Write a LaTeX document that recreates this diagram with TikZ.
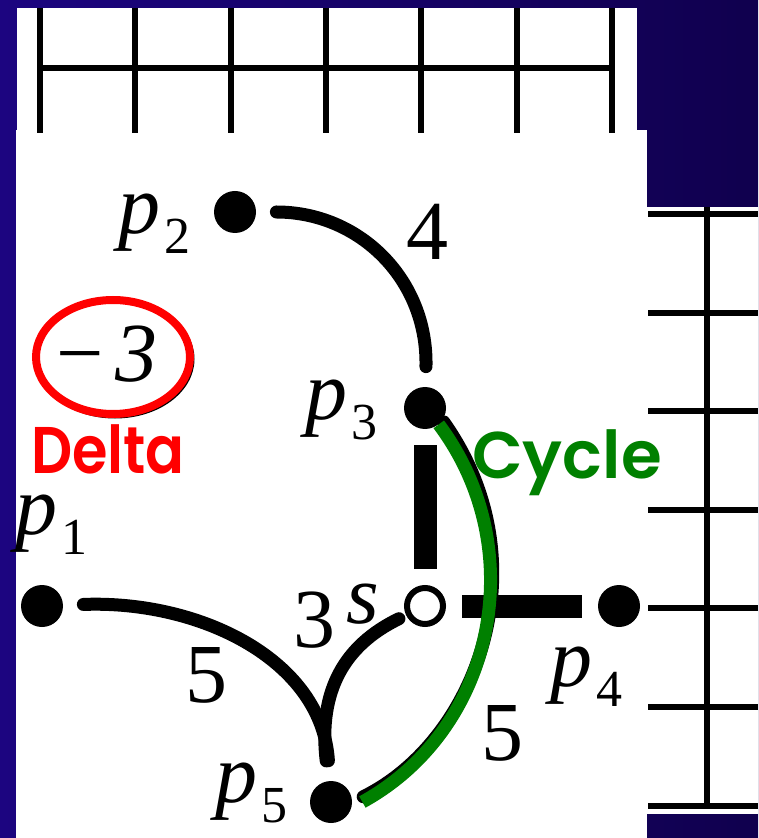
\documentclass[tikz,border=0pt]{standalone}
\usepackage{fontspec}
\setmainfont{Liberation Serif}
\newfontfamily\gothic{Poppins}[BoldFont={* SemiBold}]
\usetikzlibrary{positioning}
\definecolor{SlideNavy}{HTML}{1C0580}
\definecolor{SlideDark}{HTML}{10004E}
\definecolor{CycleGreen}{HTML}{008000}
\definecolor{DeltaRed}{HTML}{FF0000}
\newcommand{\vname}[1]{\textit{p}\kern2pt\raisebox{-10pt}{\fontsize{26}{26}\selectfont #1}}
\tikzset{
  dot/.style={circle, fill=black, minimum size=21pt, inner sep=0pt},
  hole/.style={circle, draw=black, line width=3pt, fill=white, minimum size=18pt, inner sep=0pt},
  vlabel/.style={anchor=base west, inner sep=0pt, text height=19pt, font=\fontsize{42}{42}\selectfont},
  weight/.style={anchor=base west, inner sep=0pt, text height=28pt, font=\fontsize{42}{42}\selectfont},
  tag/.style={anchor=base, inner sep=0pt, text depth=0pt, font=\gothic\bfseries\fontsize{33}{33}\selectfont},
  edge/.style={line width=6.5pt, line cap=round, shorten <=10pt, shorten >=10pt},
  bar/.style={line width=11.5pt, shorten <=8pt, shorten >=8pt},
  cycleedge/.style={line width=6.5pt, draw=CycleGreen},
  gridline/.style={line width=3pt}
}

\begin{document}
\begin{tikzpicture}[x=0.5pt, y=0.5pt]
\useasboundingbox (0,0) rectangle (758,-838);
% slide background and the cut-out panels
\shade[left color=SlideNavy, right color=SlideDark] (0,0) rectangle (758,-838);
\fill[white] (17,-8) rectangle (637,-130);
\fill[white] (16,-130) rectangle (647,-838);
\fill[white] (646,-207) rectangle (758,-814);
% grids
\foreach \i in {0,...,6}
  \draw[gridline] ({40+95.3*\i},-8) -- ({40+95.3*\i},-133);
\draw[gridline] (40,-68) -- (612,-68);
\foreach \i in {0,...,6}
  \draw[gridline] (648,{-214-98.6*\i}) -- (758,{-214-98.6*\i});
\draw[gridline] (707,-207) -- (707,-806);

% vertices
\node[dot] (p1) at (42,-606) {};
\node[dot] (p2) at (235,-212) {};
\node[dot] (p3) at (425,-408) {};
\node[hole] (s) at (425,-606) {};
\node[dot] (p4) at (619,-606) {};
\node[dot] (p5) at (331,-802) {};

\node[vlabel] (p1name) at (15,-534) {\vname{1}};
\node[vlabel] (p2name) at (118,-234) {\vname{2}};
\node[vlabel] (p3name) at (305,-419) {\vname{3}};
\node[vlabel] (p4name) at (550,-686) {\vname{4}};
\node[vlabel] (p5name) at (215,-802) {\vname{5}};
\node[vlabel] (sname) at (346,-623) {\textit{s}};

% edges
\draw[edge] (p2) .. controls (360,-212) and (428,-280) .. (p3);
\draw[edge] (p1) .. controls (200,-600) and (322,-660) .. (p5);
\draw[edge, shorten <=4pt] (s) .. controls (345,-645) and (318,-690) .. (p5);
\draw[bar] (p3) -- (s);
\draw[bar] (s) -- (p4);
\draw[edge, shorten <=6pt, shorten >=1pt] (p5.east) .. controls (475,-742) and (545,-565) .. (p3.-35);
\draw[cycleedge] ([xshift=5pt]p5.east) .. controls (495,-729) and (532,-549) .. (p3.-50);

\node[weight] (w23) at (406,-260) {4};
\node[weight] (w15) at (185,-702) {5};
\node[weight] (ws5) at (293,-647) {3};
\node[weight] (w35) at (481,-760) {5};

% delta and cycle
\draw[line width=1.5pt] (115,-359) ellipse [x radius=78, y radius=58];
\draw[DeltaRed, line width=4pt] (113,-357) ellipse [x radius=77, y radius=57];
\node[weight] (minus3) at (56,-382) {−\kern6pt\textit{3}};
\node[tag, text=DeltaRed] (delta) at (108,-473) {\scalebox{0.87}[1]{Delta}};
\node[tag, text=CycleGreen] (cycle) at (567,-478) {Cycle};
\end{tikzpicture}
\end{document}
